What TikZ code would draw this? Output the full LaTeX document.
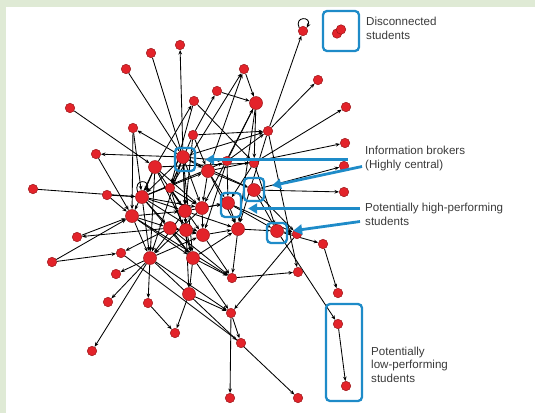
\documentclass[tikz,border=0pt]{standalone}
\usepackage{fontspec}
\setmainfont{Liberation Sans}
\usepackage{xcolor}
\usepackage{tikz}
\usetikzlibrary{arrows.meta,backgrounds}

\definecolor{panelgreen}{HTML}{DFEAD5}
\definecolor{hiblue}{HTML}{1E8BC8}
\definecolor{nodered}{HTML}{E3232A}
\definecolor{noderim}{HTML}{9A1518}
\definecolor{labelgray}{HTML}{3A3A3A}

\begin{document}
\begin{tikzpicture}[x=1pt,y=-1pt,
  stu/.style={circle,fill=nodered,draw=noderim,line width=0.5pt,inner sep=0pt,minimum size=9.5pt},
  big/.style={stu,minimum size=13pt},
  link/.style={-{Stealth[length=4.5pt,width=3.6pt]},line width=0.85pt,black},
  hibox/.style={draw=hiblue,line width=2.3pt,rounded corners=4pt,inner sep=0pt},
  pointer/.style={hiblue,line width=2.8pt,-{Triangle[length=9pt,width=10pt]}},
  lbl/.style={anchor=west,align=left,inner sep=0pt,text=labelgray,font=\fontsize{11.6}{13.5}\selectfont}]

\useasboundingbox (0,0) rectangle (535,413);
\fill[panelgreen] (0,0) rectangle (535,7);
\fill[panelgreen] (0,0) rectangle (6,413);

    % students
    \node[stu] (s1) at (303,31) {};
    \node[stu] (d1) at (337,33.5) {};
    \node[stu] (d2) at (341,29.5) {};
    \node[stu] (s3) at (180,45) {};
    \node[stu] (s4) at (151,53) {};
    \node[stu] (s5) at (126,69) {};
    \node[stu] (s6) at (244,69) {};
    \node[stu] (s7) at (318,80) {};
    \node[stu] (s8) at (217,91) {};
    \node[big] (s9) at (256,103) {};
    \node[stu] (s10) at (194,101) {};
    \node[stu] (s11) at (70,108) {};
    \node[stu] (s12) at (346,107) {};
    \node[stu] (s13) at (268,131) {};
    \node[stu] (s14) at (133,128) {};
    \node[stu] (s15) at (193,135) {};
    \node[stu] (s16) at (345,143) {};
    \node[stu] (s17) at (96,154) {};
    \node[big] (s18) at (183,157) {};
    \node[big] (s19) at (155,167) {};
    \node[big] (s20) at (208,171) {};
    \node[stu] (s21) at (227,161) {};
    \node[stu] (s22) at (254,163) {};
    \node[stu] (s23) at (344,166) {};
    \node[stu] (s24) at (33,189) {};
    \node[stu] (s25) at (107,195) {};
    \node[big] (s26) at (142,197) {};
    \node[stu] (s27) at (170,188) {};
    \node[big] (s28) at (254,190) {};
    \node[stu] (s29) at (344,192) {};
    \node[big] (s30) at (185,211) {};
    \node[big] (s31) at (202,208) {};
    \node[big] (s32) at (228,203) {};
    \node[big] (s33) at (132,216) {};
    \node[big] (s34) at (277,231) {};
    \node[stu] (s35) at (297,234) {};
    \node[big] (s36) at (170,228) {};
    \node[big] (s37) at (186,230) {};
    \node[big] (s38) at (203,235) {};
    \node[big] (s39) at (238,229) {};
    \node[stu] (s40) at (77,237) {};
    \node[stu] (s41) at (323,244) {};
    \node[stu] (s42) at (121,253) {};
    \node[stu] (s43) at (52,262) {};
    \node[big] (s44) at (150,258) {};
    \node[big] (s45) at (193,258) {};
    \node[stu] (s46) at (116,274) {};
    \node[stu] (s47) at (232,278) {};
    \node[stu] (s48) at (298,272) {};
    \node[stu] (s49) at (338,293) {};
    \node[big] (s50) at (189,294) {};
    \node[stu] (s51) at (108,302) {};
    \node[stu] (s52) at (148,303) {};
    \node[stu] (s53) at (231,313) {};
    \node[stu] (s54) at (338,324) {};
    \node[stu] (s55) at (175,333) {};
    \node[stu] (s56) at (241,343) {};
    \node[stu] (s57) at (92,351) {};
    \node[stu] (s58) at (346,386) {};
    \node[stu] (s59) at (230,398) {};
    \node[stu] (s60) at (298,398) {};

    % draw the links
    \begin{scope}[on background layer]
    \foreach \a/\b in {13/1,18/3,4/18,5/18,11/19,18/14,14/33,18/17,17/33,8/9,15/8,20/6,6/9,27/6,
      9/22,10/22,19/10,13/7,22/12,20/16,28/23,28/29,34/41,41/49,35/53,47/48,13/48,34/54,54/58,
      53/59,53/56,44/60,42/56,45/53,44/53,50/53,52/55,50/55,45/50,44/52,44/57,44/51,44/46,
      43/42,43/33,36/40,40/33,36/42,24/26,25/26,25/33,33/47,36/47,18/13,21/13,15/13,21/9,34/35,
      18/20,18/26,18/27,18/30,18/31,18/37,18/44,18/45,18/21,18/28,19/26,19/30,19/37,
      26/30,26/31,26/36,26/45,26/38,26/20,27/30,27/38,27/45,20/31,20/39,20/32,20/28,
      21/32,21/38,22/32,22/34,30/37,30/44,30/39,31/38,31/32,31/44,32/39,32/34,32/35,
      33/36,33/30,33/44,36/37,36/45,37/45,37/38,37/50,38/39,38/47,39/34,39/47,28/34,28/35,
      9/31,9/39,13/39,15/27,15/20,10/27,14/26,19/33,15/30,26/44,19/44,45/47,
      26/21,19/22,33/45,36/38,30/32,27/31,19/31,44/38,45/39}
      \draw[link] (s\a) -- (s\b);
    \draw[link] (s1.140) .. controls +(115:13pt) and +(65:13pt) .. (s1.40);
    \draw[link] (s26.130) .. controls +(110:14pt) and +(70:14pt) .. (s26.50);
    \end{scope}

    % highlight boxes
    \node[hibox,minimum width=36pt,minimum height=40pt] (bdisc) at (341,31) {};
    \node[hibox,minimum width=20pt,minimum height=23pt] (bbroker) at (185,159.5) {};
    \node[hibox,minimum width=20pt,minimum height=23pt] (bhigh1) at (254,189.5) {};
    \node[hibox,minimum width=20pt,minimum height=24pt] (bhigh2) at (231,205) {};
    \node[hibox,minimum width=20pt,minimum height=20pt] (bhigh3) at (277,233) {};
    \node[hibox,minimum width=36pt,minimum height=97pt] (blow) at (344,352.5) {};

    % labels
    \node[lbl] (tdisc) at (366,28.5) {Disconnected\\students};
    \node[lbl] (tbroker) at (365,158.5) {Information brokers\\(Highly central)};
    \node[lbl] (thigh) at (365,214.5) {Potentially high-performing\\students};
    \node[lbl] (tlow) at (371,364.5) {Potentially\\low-performing\\students};

    % pointers
    \coordinate (p1) at (348,159.5);
    \coordinate (p2) at (362,166.5);
    \coordinate (p3) at (360,208.5);
    \coordinate (p4) at (360,221.5);
    \draw[pointer,shorten >=9pt] (p1) -- (bbroker);
    \draw[pointer,shorten >=7pt] (p2) -- (bhigh1);
    \draw[pointer,shorten >=6pt] (p3) -- (p3 -| bhigh2.east);
    \draw[pointer,shorten >=5pt] (p4) -- (bhigh3);

\end{tikzpicture}
\end{document}
